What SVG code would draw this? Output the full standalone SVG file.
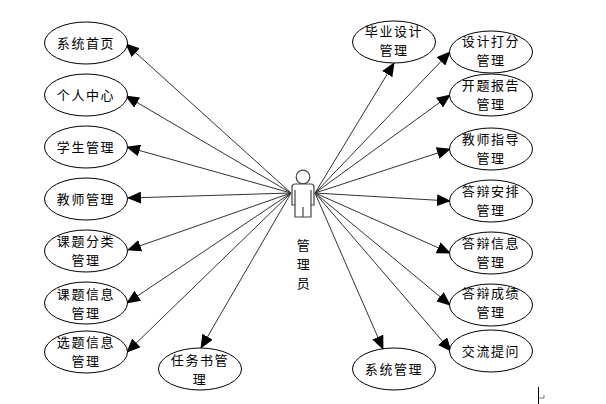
<svg xmlns="http://www.w3.org/2000/svg" width="606" height="404" viewBox="0 0 606 404">
<style>
.n ellipse{fill:#fff;stroke:#000;stroke-width:1}
text{font-family:"Noto Sans CJK SC","Liberation Sans",sans-serif;font-size:13px;fill:#000;text-anchor:middle;letter-spacing:1.6px}
#connectors line{stroke:#333;stroke-width:1;marker-end:url(#a)}
</style>
<defs><marker id="a" markerUnits="userSpaceOnUse" markerWidth="14" markerHeight="12" refX="13" refY="6" orient="auto"><path d="M0 0L14 6L0 12Z" fill="#000"/></marker></defs>
<rect width="606" height="404" fill="#fff"/>
<g id="connectors">
<line x1="291" y1="193" x2="126" y2="44"/>
<line x1="291" y1="193" x2="126" y2="96"/>
<line x1="291" y1="193" x2="127" y2="147"/>
<line x1="291" y1="193" x2="128" y2="198"/>
<line x1="291" y1="193" x2="128" y2="250"/>
<line x1="291" y1="193" x2="127" y2="303"/>
<line x1="291" y1="193" x2="127" y2="352"/>
<line x1="291" y1="193" x2="201" y2="348"/>
<line x1="315" y1="193" x2="394" y2="63"/>
<line x1="315" y1="193" x2="450" y2="52"/>
<line x1="315" y1="193" x2="450" y2="95"/>
<line x1="315" y1="193" x2="450" y2="149"/>
<line x1="315" y1="193" x2="450" y2="201"/>
<line x1="315" y1="193" x2="450" y2="253"/>
<line x1="315" y1="193" x2="450" y2="305"/>
<line x1="315" y1="193" x2="451" y2="351"/>
<line x1="315" y1="193" x2="383" y2="349"/>
</g>
<g id="actor">
<g fill="#fff" stroke="#444" stroke-width="1.2" stroke-linejoin="round">
<circle cx="303" cy="177" r="6.800"/>
<path d="M295 184H311Q314 184 314 187V205H311V217H295V205H292V187Q292 184 295 184Z"/>
<path d="M295 190V205M311 190V205M303 207V217" fill="none"/>
</g>
<text x="304" y="250">管</text>
<text x="304" y="269">理</text>
<text x="304" y="288">员</text>
</g>
<g id="n1" class="n"><ellipse cx="86" cy="43" rx="41.5" ry="21"/><text x="86" y="48">系统首页</text></g>
<g id="n2" class="n"><ellipse cx="86" cy="95" rx="41.5" ry="21"/><text x="86" y="100">个人中心</text></g>
<g id="n3" class="n"><ellipse cx="86" cy="147" rx="41.5" ry="21"/><text x="86" y="152">学生管理</text></g>
<g id="n4" class="n"><ellipse cx="86" cy="199" rx="41.5" ry="21"/><text x="86" y="204">教师管理</text></g>
<g id="n5" class="n"><ellipse cx="86" cy="251" rx="41.5" ry="21"/><text x="86" y="246">课题分类</text><text x="86" y="265">管理</text></g>
<g id="n6" class="n"><ellipse cx="86" cy="303" rx="41.5" ry="21"/><text x="86" y="299">课题信息</text><text x="86" y="318">管理</text></g>
<g id="n7" class="n"><ellipse cx="86" cy="352" rx="41.5" ry="21"/><text x="86" y="347">选题信息</text><text x="86" y="366">管理</text></g>
<g id="n8" class="n"><ellipse cx="200" cy="369" rx="41.5" ry="21"/><text x="200" y="365">任务书管</text><text x="200" y="384">理</text></g>
<g id="n9" class="n"><ellipse cx="394" cy="42" rx="41.5" ry="21"/><text x="394" y="36">毕业设计</text><text x="394" y="55">管理</text></g>
<g id="n10" class="n"><ellipse cx="491" cy="52" rx="41.5" ry="21"/><text x="491" y="46">设计打分</text><text x="491" y="65">管理</text></g>
<g id="n11" class="n"><ellipse cx="491" cy="95" rx="41.5" ry="21"/><text x="491" y="90">开题报告</text><text x="491" y="109">管理</text></g>
<g id="n12" class="n"><ellipse cx="491" cy="149" rx="41.5" ry="21"/><text x="491" y="144">教师指导</text><text x="491" y="163">管理</text></g>
<g id="n13" class="n"><ellipse cx="491" cy="201" rx="41.5" ry="21"/><text x="491" y="196">答辩安排</text><text x="491" y="215">管理</text></g>
<g id="n14" class="n"><ellipse cx="491" cy="253" rx="41.5" ry="21"/><text x="491" y="248">答辩信息</text><text x="491" y="267">管理</text></g>
<g id="n15" class="n"><ellipse cx="491" cy="305" rx="41.5" ry="21"/><text x="491" y="298">答辩成绩</text><text x="491" y="317">管理</text></g>
<g id="n16" class="n"><ellipse cx="491" cy="351" rx="41.5" ry="21"/><text x="491" y="356">交流提问</text></g>
<g id="n17" class="n"><ellipse cx="394" cy="369" rx="41.5" ry="21"/><text x="394" y="374">系统管理</text></g>
<path d="M538.500 387V404" stroke="#000" fill="none"/>
<path d="M544 395V398H539" stroke="#777" fill="none"/>
</svg>
